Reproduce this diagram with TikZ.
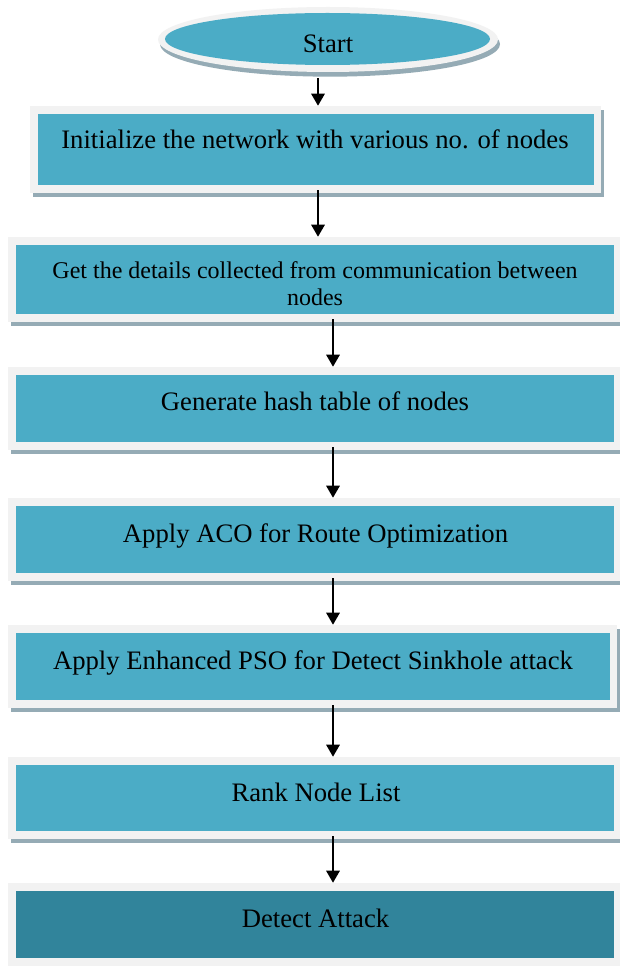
\documentclass[tikz,border=0pt]{standalone}
\usepackage{fontspec}
\setmainfont{Liberation Serif}
\usetikzlibrary{shadows,calc,arrows.meta,shapes.geometric}
\definecolor{boxblue}{HTML}{4BACC6}
\definecolor{boxdark}{HTML}{31849B}
\definecolor{rimgray}{HTML}{F2F2F2}
\definecolor{shadowgray}{HTML}{95ABB5}
\tikzset{
  rim/.style={rectangle, fill=rimgray, draw=none, inner sep=0pt,
    drop shadow={shadow xshift=2.25pt, shadow yshift=-3pt, fill=shadowgray, opacity=1}},
  core/.style={rectangle, fill=boxblue, draw=none, inner sep=0pt},
  boxtext/.style={anchor=base, inner sep=0pt, font=\fontsize{20}{24}\selectfont},
  smalltext/.style={anchor=base, inner sep=0pt, align=center, font=\fontsize{18}{20.25}\selectfont},
  arr/.style={-{Triangle[length=9pt,width=10pt]}, line width=1.5pt, black}
}
\newcommand\flowstep[6]{%
  \node[rim, minimum width={(#4-#2)*0.75pt}, minimum height={(#5-#3)*0.75pt}] (#1) at ({(#2+#4)/2},{(#3+#5)/2}) {};
  \node[core, fill=#6, minimum width={(#4-#2-15)*0.75pt}, minimum height={(#5-#3-16)*0.75pt}] (#1in) at ($(#1.center)+(0.5,0)$) {};
}
\begin{document}
\begin{tikzpicture}[x=0.75pt,y=-0.75pt]
\useasboundingbox[fill=white] (0,0) rectangle (619,966);
% start ellipse
\node[ellipse, fill=rimgray, inner sep=0pt, minimum width={340*0.75pt}, minimum height={65*0.75pt},
  drop shadow={shadow xshift=1.5pt, shadow yshift=-3.5pt, fill=shadowgray, opacity=1}] (start) at (328,39.5) {};
\node[ellipse, fill=boxblue, inner sep=0pt, minimum width={325*0.75pt}, minimum height={52*0.75pt}] (startin) at (327.5,39) {};
\node[boxtext] (tstart) at (328,53) {Start};
% boxes
\flowstep{b1}{30}{106}{601}{193}{boxblue}
\flowstep{b2}{8}{237}{621}{322}{boxblue}
\flowstep{b3}{8}{367}{621}{450}{boxblue}
\flowstep{b4}{8}{498}{621}{581}{boxblue}
\flowstep{b5}{8}{625}{617}{708}{boxblue}
\flowstep{b6}{8}{757}{621}{839}{boxblue}
\flowstep{b7}{8}{883}{621}{966}{boxdark}
\node[boxtext] (t1) at (315,149) {Initialize the network with various no. of nodes};
\node[smalltext] (t2) at (315,305) {Get the details collected from communication between\\nodes};
\node[boxtext] (t3) at (315,410.5) {Generate hash table of nodes};
\node[boxtext] (t4) at (315.5,542) {Apply ACO for Route Optimization};
\node[boxtext] (t5) at (313,669) {Apply Enhanced PSO for Detect Sinkhole attack};
\node[boxtext] (t6) at (316,801) {Rank Node List};
\node[boxtext] (t7) at (315.5,927) {Detect Attack};
% arrows
\coordinate (ax1) at (318,0);
\coordinate (ax2) at (333,0);
\draw[arr] ($(start.south -| ax1)+(0,6)$) -- (b1.north -| ax1);
\draw[arr] ($(b1.south -| ax1)+(0,-3)$) -- (b2.north -| ax1);
\draw[arr] ($(b2.south -| ax2)+(0,-3)$) -- (b3.north -| ax2);
\draw[arr] ($(b3.south -| ax2)+(0,-3)$) -- (b4.north -| ax2);
\draw[arr] ($(b4.south -| ax2)+(0,-3)$) -- (b5.north -| ax2);
\draw[arr] ($(b5.south -| ax2)+(0,-3)$) -- (b6.north -| ax2);
\draw[arr] ($(b6.south -| ax2)+(0,-3)$) -- (b7.north -| ax2);
\end{tikzpicture}
\end{document}
